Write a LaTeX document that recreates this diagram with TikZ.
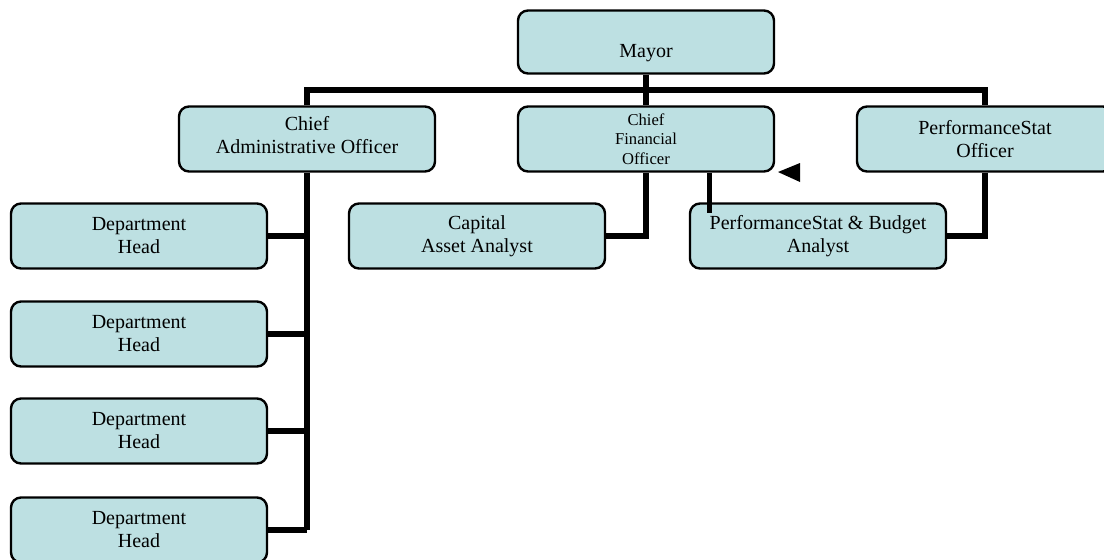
\documentclass[tikz,border=0pt]{standalone}
\usepackage{fontspec}
\setmainfont{Liberation Serif}
\definecolor{boxfill}{RGB}{189,224,226}
\begin{document}
\begin{tikzpicture}[x=0.5pt,y=-0.5pt]
		\tikzset{mynode/.style={font=\fontsize{10}{11.5}\selectfont,align=center,inner sep=0pt,text=black},
			orgbox/.style={mynode,draw=black,line width=1.2pt,fill=boxfill,rounded corners=5pt,minimum width=128pt,minimum height=32.5pt},
			link/.style={line width=3.2pt}}
		\useasboundingbox (0,0) rectangle (1104,559);
		%Boxes
		\node[orgbox,minimum height=31.5pt] (mayor) at (646,42) {};
		\node[mynode] (mayortext) at (646,53) {Mayor};
		\node[orgbox] (cao) at (307,139) {};
		\node[mynode] (caotext) at (307,135) {Chief\\Administrative Officer};
		\node[orgbox,font=\fontsize{8.3}{9.75}\selectfont] (cfo) at (646,139) {Chief\\Financial\\Officer};
		\node[orgbox] (pso) at (985,139) {PerformanceStat\\Officer};
		\node[orgbox] (caa) at (477,236) {Capital\\Asset Analyst};
		\node[orgbox] (psba) at (818,236) {PerformanceStat \& Budget\\Analyst};
		\node[orgbox] (dh1) at (139,236) {Department\\Head};
		\node[orgbox] (dh2) at (139,334) {Department\\Head};
		\node[orgbox] (dh3) at (139,431) {Department\\Head};
		\node[orgbox] (dh4) at (139,530) {Department\\Head};
		%Connectors
		\coordinate (bar) at (0,90);
		\draw[link] (mayor.south) -- (cfo.north);
		\draw[link] (cao.north) |- (pso.north |- bar) -- (pso.north);
		\draw[link] (cao.south) -- (cao.south |- dh4.east);
		\draw[link] (dh1.east) -- (cao.south |- dh1.east);
		\draw[link] (dh2.east) -- (cao.south |- dh2.east);
		\draw[link] (dh3.east) -- (cao.south |- dh3.east);
		\draw[link] (dh4.east) -- (cao.south |- dh4.east);
		\draw[link] (cfo.south) |- (caa.east);
		\draw[link] (pso.south) |- (psba.east);
		\coordinate (stray) at (709,213);
		\draw[line width=2.5pt] (stray |- cfo.south) -- (stray);
		\coordinate (tip) at (778,172);
		\fill (tip) -- ++(22,-9) -- ++(0,19) -- cycle;
	\end{tikzpicture}
\end{document}
